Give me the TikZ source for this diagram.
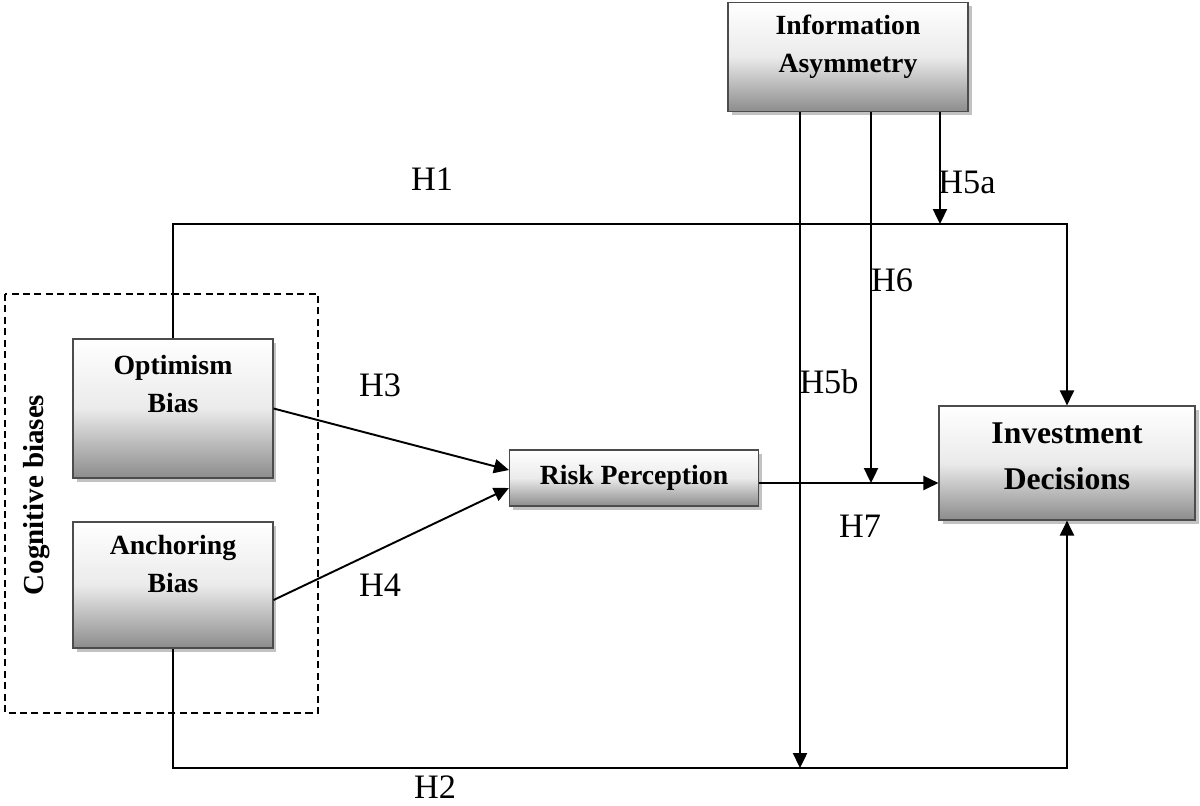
\documentclass[tikz,border=0pt]{standalone}
\usepackage{fontspec}
\setmainfont{Liberation Serif}
\usetikzlibrary{arrows.meta,shadows}
\tikzset{
BOX/.style ={draw=black!70,line width=0.7pt,top color=white,bottom color=black!45,middle color=black!8,drop shadow={shadow xshift=2pt,shadow yshift=-2pt,fill=black!40,opacity=0.6}},
BOXTEXT/.style ={align=center,font=\fontsize{15.8}{21.5}\selectfont\bfseries,inner sep=0pt},
LINK/.style ={draw=black,line width=1.1pt},
ARROW/.style ={LINK,-{Triangle[length=8.5pt,width=8pt]}},
HLABEL/.style ={font=\fontsize{19.5}{22}\selectfont,inner sep=0pt},
GROUP/.style ={draw=black,line width=0.8pt,dash pattern=on 4pt off 2.5pt},
}
\begin{document}
\begin{tikzpicture}[x=0.02cm,y=-0.02cm] %research model
	\useasboundingbox (0,0) rectangle (1200,805);
	\path[GROUP] (5,294) rectangle (318,713);
	\node[rotate=90,font=\fontsize{16.5}{18}\selectfont\bfseries,inner sep=0pt] (cog) at (37,495) {Cognitive biases};
	\node[BOX,minimum width=4.8cm,minimum height=2.18cm] (info) at (848,57) {};
	\node[BOXTEXT] (infotext) at (848,47) {Information\\Asymmetry};
	\node[BOX,minimum width=4cm,minimum height=2.78cm] (opt) at (173,408.5) {};
	\node[BOXTEXT] (opttext) at (173,384) {Optimism\\Bias};
	\node[BOX,minimum width=4cm,minimum height=2.52cm] (anc) at (173,585) {};
	\node[BOXTEXT] (anctext) at (173,564) {Anchoring\\Bias};
	\node[BOX,BOXTEXT,minimum width=4.98cm,minimum height=1.12cm] (risk) at (634,478) {Risk Perception};
	\node[BOX,minimum width=5.12cm,minimum height=2.28cm] (inv) at (1067,463) {};
	\node[BOXTEXT,font=\fontsize{18}{26}\selectfont\bfseries] (invtext) at (1067,456) {Investment\\Decisions};
	\coordinate (topbus) at (0,224);
	\coordinate (botbus) at (0,768);
	\coordinate (midline) at (0,483);
	\coordinate (h5a) at ([xshift=1.84cm]info.south);
	\coordinate (h6) at ([xshift=0.46cm]info.south);
	\coordinate (h5b) at ([xshift=-0.96cm]info.south);
	\path[ARROW] (opt.north) |- (inv.north |- topbus) -- (inv.north);
	\path[ARROW] (anc.south) |- (inv.south |- botbus) -- (inv.south);
	\path[ARROW] (h5a) -- (h5a |- topbus);
	\path[ARROW] (h6) -- (h6 |- midline);
	\path[ARROW] (h5b) -- (h5b |- botbus);
	\path[ARROW] (opt.east) -- ([yshift=0.16cm]risk.west);
	\path[ARROW] ([yshift=-0.3cm]anc.east) -- ([yshift=-0.2cm]risk.west);
	\path[ARROW] (risk.east |- midline) -- (inv.west |- midline);
	\node[HLABEL] (lh1) at (432,179) {H1};
	\node[HLABEL] (lh5a) at (967,182) {H5a};
	\node[HLABEL] (lh6) at (892,280) {H6};
	\node[HLABEL] (lh3) at (380,385) {H3};
	\node[HLABEL] (lh5b) at (829,382) {H5b};
	\node[HLABEL] (lh7) at (860,526) {H7};
	\node[HLABEL] (lh4) at (380,585) {H4};
	\node[HLABEL] (lh2) at (435,787) {H2};
\end{tikzpicture}
\end{document}
